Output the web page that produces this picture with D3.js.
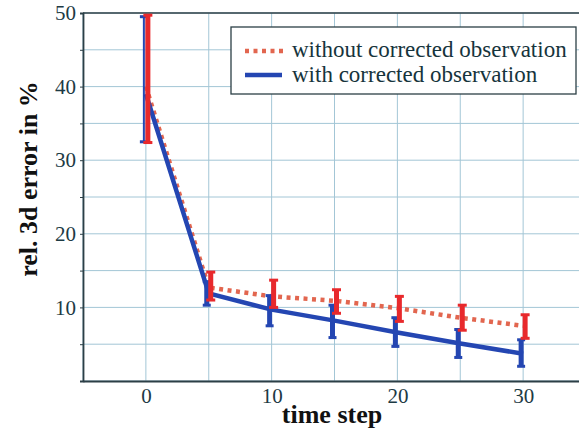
<!DOCTYPE html>
<html>
<head>
<meta charset="utf-8">
<script src="https://cdn.jsdelivr.net/npm/d3@7"></script>
<style>
body { margin: 0; background: #fff; }
svg { display: block; }
</style>
</head>
<body>
<div id="chart"></div>
<script>
var w = 579;
var h = 432;

// values
var steps = [0, 5, 10, 15, 20, 25, 30];
var withoutVals = [40.0, 12.7, 11.5, 10.9, 9.9, 8.6, 7.5];
var withoutLo = [32.4, 11.0, 10.0, 9.2, 8.1, 6.9, 5.8];
var withoutHi = [49.7, 14.8, 13.7, 12.4, 11.5, 10.3, 9.0];
var withVals = [39.0, 11.9, 9.7, 8.2, 6.6, 5.1, 3.7];
var withLo = [32.5, 10.3, 7.5, 5.9, 4.7, 3.2, 2.0];
var withHi = [49.5, 13.5, 11.6, 10.3, 8.6, 7.0, 5.6];
var xTicks = [0, 10, 20, 30];
var yTicks = [10, 20, 30, 40, 50];
var legendLabels = ["without corrected observation", "with corrected observation"];

var red = "#e2664f";
var redBar = "#e8292c";
var blue = "#2446b2";
var gridColor = "#a3c6d6";
var axisColor = "#2c3f46";
var serif = "'Liberation Serif'";

var x = d3.scaleLinear().domain([-5, 35]).range([83, 586]);
var y = d3.scaleLinear().domain([0, 50]).range([381, 13]);

var svg = d3.select("#chart")
            .append("svg")
            .attr("width", w)
            .attr("height", h);

// grid
var gx = d3.range(-5, 36, 5);
var gy = d3.range(0, 51, 5);

svg.selectAll("line.gx")
   .data(gx)
   .enter()
   .append("line")
   .attr("x1", function(d) { return x(d); })
   .attr("x2", function(d) { return x(d); })
   .attr("y1", y(0))
   .attr("y2", y(50))
   .style("stroke", gridColor)
   .style("stroke-width", 1);

svg.selectAll("line.gy")
   .data(gy)
   .enter()
   .append("line")
   .attr("x1", x(-5))
   .attr("x2", x(35))
   .attr("y1", function(d) { return y(d); })
   .attr("y2", function(d) { return y(d); })
   .style("stroke", gridColor)
   .style("stroke-width", 1);

// axes
var yAxis = d3.axisLeft(y).tickValues(gy).tickSize(3)
              .tickFormat(function(d) { return yTicks.indexOf(d) >= 0 ? d : ""; });
var xAxis = d3.axisBottom(x).tickValues(gx).tickSize(0)
              .tickFormat(function(d) { return xTicks.indexOf(d) >= 0 ? d : ""; });

var ya = svg.append("g").attr("transform", "translate(" + x(-5) + ",0)").call(yAxis);
var xa = svg.append("g").attr("transform", "translate(0," + y(0) + ")").call(xAxis);

[ya, xa].forEach(function(g) {
    g.select(".domain").style("stroke", axisColor).style("stroke-width", 1.8);
    g.selectAll(".tick line").style("stroke", axisColor);
    g.selectAll("text")
     .style("font-family", serif)
     .style("font-size", "21px")
     .style("fill", "#1d3a44");
});
ya.selectAll("text").attr("x", -7);
xa.selectAll("text").attr("y", 7);

// top border
svg.append("line")
   .attr("x1", x(-5)).attr("x2", x(35))
   .attr("y1", y(50)).attr("y2", y(50))
   .style("stroke", axisColor)
   .style("stroke-width", 1.5);

// lines
var line = d3.line()
             .x(function(d) { return x(d[0]); })
             .y(function(d) { return y(d[1]); });

var redPts = steps.map(function(s, i) { return [s, withoutVals[i]]; });
var bluePts = steps.map(function(s, i) { return [s, withVals[i]]; });

svg.append("path")
   .datum(redPts)
   .attr("d", line)
   .style("fill", "none")
   .style("stroke", red)
   .style("stroke-width", 4.5)
   .style("stroke-dasharray", "4,4.5");

svg.append("path")
   .datum(bluePts)
   .attr("d", line)
   .style("fill", "none")
   .style("stroke", blue)
   .style("stroke-width", 4.5);

// error bars
function errorBars(lo, hi, color, dx, width, capW) {
    var g = svg.append("g");
    steps.forEach(function(s, i) {
        var cx = x(s) + dx;
        var bw = (i === 0 && color === blue) ? 2 : width;
        g.append("line")
         .attr("x1", cx).attr("x2", cx)
         .attr("y1", y(lo[i])).attr("y2", y(hi[i]))
         .style("stroke", color)
         .style("stroke-width", bw);
        [lo[i], hi[i]].forEach(function(v) {
            g.append("line")
             .attr("x1", cx - capW / 2).attr("x2", cx + capW / 2)
             .attr("y1", y(v)).attr("y2", y(v))
             .style("stroke", color)
             .style("stroke-width", 3);
        });
    });
}

errorBars(withLo, withHi, blue, -2, 5, 8);
errorBars(withoutLo, withoutHi, redBar, 2, 5, 9);

// legend
var lg = svg.append("g");
lg.append("rect")
  .attr("x", 231).attr("y", 27)
  .attr("width", 345).attr("height", 67)
  .style("fill", "#fff")
  .style("stroke", axisColor)
  .style("stroke-width", 1.3);

lg.append("line")
  .attr("x1", 245).attr("x2", 283)
  .attr("y1", 51).attr("y2", 51)
  .style("stroke", red)
  .style("stroke-width", 4.5)
  .style("stroke-dasharray", "4,4.5");

lg.append("line")
  .attr("x1", 245).attr("x2", 282)
  .attr("y1", 75).attr("y2", 75)
  .style("stroke", blue)
  .style("stroke-width", 4.5);

lg.selectAll("text")
  .data(legendLabels)
  .enter()
  .append("text")
  .attr("x", 292)
  .attr("y", function(d, i) { return 57 + i * 25; })
  .text(function(d) { return d; })
  .style("font-family", serif)
  .style("font-size", "23px")
  .style("fill", "#16343c");

// axis titles
svg.append("text")
   .attr("x", 332)
   .attr("y", 423)
   .attr("text-anchor", "middle")
   .text("time step")
   .style("font-family", serif)
   .style("font-weight", "bold")
   .style("font-size", "26px")
   .style("fill", "#111");

svg.append("text")
   .attr("transform", "translate(37,179) rotate(-90)")
   .attr("text-anchor", "middle")
   .text("rel. 3d error in %")
   .style("font-family", serif)
   .style("font-weight", "bold")
   .style("font-size", "26px")
   .style("fill", "#111");
</script>
</body>
</html>
